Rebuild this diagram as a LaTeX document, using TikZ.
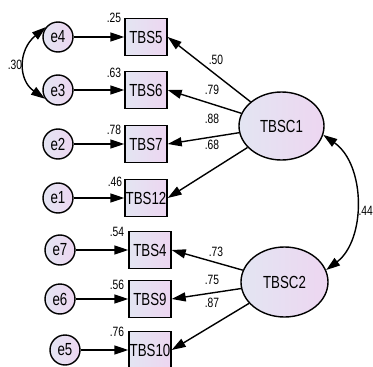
\documentclass[tikz,border=0pt]{standalone}
\usepackage{fontspec}
\setmainfont{Liberation Sans}[FakeStretch=0.76]
\usetikzlibrary{arrows.meta,shapes.geometric}
\definecolor{gradL}{HTML}{E3E5F2}
\definecolor{gradR}{HTML}{EDD6F1}
\tikzset{
  grad/.style={left color=gradL, right color=gradR, draw=black, line width=1.4pt},
  errc/.style={grad, circle, minimum size=30pt, inner sep=0pt, font=\fontsize{17.5}{17.5}\selectfont},
  obs/.style={grad, rectangle, minimum width=42pt, minimum height=37pt, inner sep=0pt, font=\fontsize{17.5}{17.5}\selectfont},
  lat/.style={grad, ellipse, inner sep=0pt, font=\fontsize{17.5}{17.5}\selectfont},
  arr/.style={line width=1.4pt, -{Triangle[length=14pt,width=9pt]}},
  dbl/.style={line width=1.4pt, {Triangle[length=14pt,width=9pt]}-{Triangle[length=14pt,width=9pt]}},
  lbl/.style={inner sep=0pt, font=\fontsize{13.5}{13.5}\selectfont},
}
\begin{document}
\begin{tikzpicture}[x=1pt,y=-1pt]
\useasboundingbox (0,0) rectangle (373,367);
% error terms
\node[errc] (e4) at (58,37) {e4};
\node[errc] (e3) at (58,90) {e3};
\node[errc] (e2) at (58,144) {e2};
\node[errc] (e1) at (58,198) {e1};
\node[errc] (e7) at (60,250) {e7};
\node[errc] (e6) at (60,299) {e6};
\node[errc] (e5) at (65,350) {e5};
% observed
\node[obs] (TBS5) at (146,37) {TBS5};
\node[obs] (TBS6) at (146,90) {TBS6};
\node[obs] (TBS7) at (146,144) {TBS7};
\node[obs] (TBS12) at (146,198) {TBS12};
\node[obs] (TBS4) at (150,250) {TBS4};
\node[obs] (TBS9) at (150,299) {TBS9};
\node[obs] (TBS10) at (150,350) {TBS10};
% latent
\node[lat, minimum width=85pt, minimum height=68pt] (TBSC1) at (281.5,126) {TBSC1};
\node[lat, minimum width=87pt, minimum height=70pt] (TBSC2) at (284.5,282) {TBSC2};
% error arrows
\draw[arr] (e4) -- (TBS5);
\draw[arr] (e3) -- (TBS6);
\draw[arr] (e2) -- (TBS7);
\draw[arr] (e1) -- (TBS12);
\draw[arr] (e7) -- (TBS4);
\draw[arr] (e6) -- (TBS9);
\draw[arr] (e5) -- (TBS10);
% loadings
\draw[arr] (TBSC1) -- (TBS5.east);
\draw[arr] (TBSC1) -- (TBS6.east);
\draw[arr] (TBSC1) -- (TBS7.east);
\draw[arr] (TBSC1) -- (TBS12.east);
\draw[arr] (TBSC2) -- (TBS4.east);
\draw[arr] (TBSC2) -- (TBS9.east);
\draw[arr] (TBSC2) -- (TBS10.east);
% covariances
\draw[dbl] (e4.141) .. controls (18,50) and (18,80) .. (e3.214);
\draw[dbl] (TBSC1.-12) .. controls (366,165) and (366,240) .. (TBSC2.16);
% labels
\node[lbl] (r5) at (114,17.5) {.25};
\node[lbl] (r6) at (114,73) {.63};
\node[lbl] (r7) at (114,130) {.78};
\node[lbl] (r12) at (115,182) {.46};
\node[lbl] (r4) at (117,232) {.54};
\node[lbl] (r9) at (117,285) {.56};
\node[lbl] (r10) at (117,332) {.76};
\node[lbl] (l5) at (216,60) {.50};
\node[lbl] (l6) at (212,90) {.79};
\node[lbl] (l7) at (212,119) {.88};
\node[lbl] (l12) at (212,145) {.68};
\node[lbl] (l4) at (216,252) {.73};
\node[lbl] (l9) at (212,280) {.75};
\node[lbl] (l10) at (212,303) {.87};
\node[lbl] (c30) at (15,65) {.30};
\node[lbl, anchor=east] (c44) at (373,211) {.44};
\end{tikzpicture}
\end{document}
